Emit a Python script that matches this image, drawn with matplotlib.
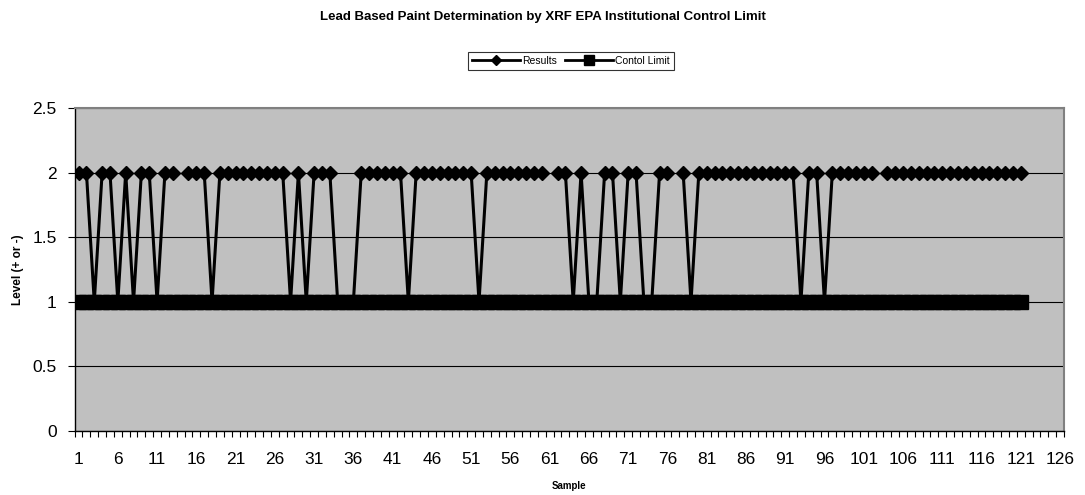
import numpy as np
import matplotlib.pyplot as plt
from matplotlib.lines import Line2D

plt.rcParams['font.family'] = ['Liberation Sans', 'DejaVu Sans']

title = 'Lead Based Paint Determination by XRF EPA Institutional Control Limit'

# 2 = positive, 1 = negative, None = blank cell
results = [2, 2, 1, 2, 2, 1, 2, 1, 2, 2,
           1, 2, 2, None, 2, 2, 2, 1, 2, 2,
           2, 2, 2, 2, 2, 2, 2, 1, 2, 1,
           2, 2, 2, 1, 1, 1, 2, 2, 2, 2,
           2, 2, 1, 2, 2, 2, 2, 2, 2, 2,
           2, 1, 2, 2, 2, 2, 2, 2, 2, 2,
           None, 2, 2, 1, 2, 1, 1, 2, 2, 1,
           2, 2, 1, 1, 2, 2, None, 2, 1, 2,
           2, 2, 2, 2, 2, 2, 2, 2, 2, 2,
           2, 2, 1, 2, 2, 1, 2, 2, 2, 2,
           2, 2, None, 2, 2, 2, 2, 2, 2, 2,
           2, 2, 2, 2, 2, 2, 2, 2, 2, 2, 2]

control = [1, 1, 1, 1, 1, 1, 1, 1, 1, 1,
           1, 1, 1, 1, 1, 1, 1, 1, 1, 1,
           1, 1, 1, 1, 1, 1, 1, 1, 1, 1,
           1, 1, 1, 1, 1, 1, 1, 1, 1, 1,
           1, 1, 1, 1, 1, 1, 1, 1, 1, 1,
           1, 1, 1, 1, 1, 1, 1, 1, 1, 1,
           1, 1, 1, 1, 1, 1, 1, 1, 1, 1,
           1, 1, 1, 1, 1, 1, 1, 1, 1, 1,
           1, 1, 1, 1, 1, 1, 1, 1, 1, 1,
           1, 1, 1, 1, 1, 1, 1, 1, 1, 1,
           1, 1, 1, 1, 1, 1, 1, 1, 1, 1,
           1, 1, 1, 1, 1, 1, 1, 1, 1, 1, 1]

n_categories = 126
x_labels = list(range(1, 127, 5))
y_ticks = [0, 0.5, 1, 1.5, 2, 2.5]

fig = plt.figure(figsize=(10.85, 4.95), dpi=100)
ax = fig.add_axes([0.0688, 0.129, 0.9118, 0.653])
ax.set_facecolor('#C0C0C0')

res = np.array([np.nan if v is None else v for v in results], dtype=float)
xr = np.arange(1, len(res) + 1)
xc = np.arange(1, len(control) + 1)

ax.plot(xr, res, color='black', linewidth=2.2, marker='D', markersize=7.5,
        markerfacecolor='black', markeredgecolor='black', zorder=3)
ax.plot(xc, control, color='black', linewidth=2.2, marker='s', markersize=10.5,
        markerfacecolor='black', markeredgecolor='black', zorder=4)

ax.set_xlim(0.5, n_categories + 0.5)
ax.set_ylim(0, 2.5)

ax.set_yticks(y_ticks)
ax.set_yticklabels(['0', '0.5', '1', '1.5', '2', '2.5'])
ax.yaxis.grid(True, color='black', linewidth=0.8)
ax.set_axisbelow(True)

ax.set_xticks(x_labels)
ax.set_xticklabels([str(v) for v in x_labels])
ax.set_xticks(np.arange(0.5, n_categories + 1, 1), minor=True)
ax.tick_params(axis='x', which='major', length=0, pad=15, labelsize=12.5)
ax.tick_params(axis='x', which='minor', length=4, width=0.8, direction='out')
ax.tick_params(axis='y', length=5, width=0.8, direction='out', pad=8, labelsize=12.5)

for s in ['left', 'bottom']:
    ax.spines[s].set_color('black')
    ax.spines[s].set_linewidth(1)
for s in ['top', 'right']:
    ax.spines[s].set_color('#808080')
    ax.spines[s].set_linewidth(1.5)

ax.set_xlabel('Sample', fontweight='bold', fontsize=7, labelpad=10)
ax.set_ylabel('Level (+ or -)', fontweight='bold', fontsize=8.5, labelpad=6)

fig.text(0.5, 0.965, title, ha='center', va='center', fontweight='bold', fontsize=9.5)

handles = [Line2D([], [], color='black', linewidth=2, marker='D', markersize=5.5),
           Line2D([], [], color='black', linewidth=2, marker='s', markersize=7)]
leg = fig.legend(handles, ['Results', 'Contol Limit'], loc='center',
                 bbox_to_anchor=(0.526, 0.877), ncol=2, fontsize=7.5,
                 frameon=True, fancybox=False, edgecolor='black',
                 handlelength=4.6, columnspacing=0.8, handletextpad=0.2,
                 borderpad=0.4)
leg.get_frame().set_linewidth(0.8)

fig.savefig('out.png', dpi=100)
